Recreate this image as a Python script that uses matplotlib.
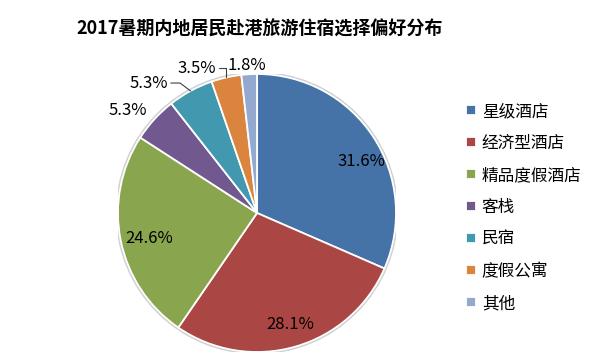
import numpy as np
import matplotlib
matplotlib.use("Agg")
import matplotlib.pyplot as plt
from matplotlib.patches import Circle

plt.rcParams['font.family'] = ['Noto Sans CJK SC', 'DejaVu Sans']

title = "2017暑期内地居民赴港旅游住宿选择偏好分布"
categories = ["星级酒店", "经济型酒店", "精品度假酒店", "客栈", "民宿", "度假公寓", "其他"]
values = [31.6, 28.1, 24.6, 5.3, 5.3, 3.5, 1.8]
colors = ["#4572A7", "#AA4643", "#89A54E", "#71588F", "#4198AF", "#DB843D", "#93A9CF"]

fig = plt.figure(figsize=(6, 3.6), dpi=100)
cx, cy, R = 257, 213, 139
ax = fig.add_axes([(cx - R) / 600, (360 - cy - R) / 360, 2 * R / 600, 2 * R / 360])

ax.add_patch(Circle((0, 0), 1.012, color='#d0d0d0', zorder=0))
wedges, _ = ax.pie(values, colors=colors, startangle=90, counterclock=False,
                   radius=1.0, wedgeprops=dict(edgecolor='white', linewidth=1.3),
                   normalize=True)
for w in wedges:
    w.set_zorder(1)
ax.set_xlim(-1, 1)
ax.set_ylim(-1, 1)
ax.set_aspect('equal')
ax.axis('off')

# label layout: radius and angle offset (degrees) for the inside labels
inside_r = [0.84, 0.84, 0.80]
inside_da = [-7, 0.7, 2.2]
labels = [f"{v:.1f}%" for v in values]

def mid_angle(w):
    return np.deg2rad((w.theta1 + w.theta2) / 2)

for i in range(3):
    a = mid_angle(wedges[i]) + np.deg2rad(inside_da[i])
    ax.text(inside_r[i] * np.cos(a), inside_r[i] * np.sin(a), labels[i],
            ha='center', va='center', fontsize=12, color='black')

# purple label (no leader)
a = mid_angle(wedges[3]) + np.deg2rad(4)
ax.text(1.19 * np.cos(a), 1.19 * np.sin(a), labels[3], ha='center', va='center', fontsize=12)

# cyan label with leader
a = mid_angle(wedges[4])
ax.annotate(labels[4], xy=(np.cos(a), np.sin(a)), xytext=(-0.64, 0.935),
            ha='right', va='center', fontsize=12,
            arrowprops=dict(arrowstyle='-', color='#404040', lw=0.8, shrinkA=0, shrinkB=0,
                            relpos=(1, 0.5), connectionstyle='angle,angleA=0,angleB=-37'))
# orange label with leader
a = mid_angle(wedges[5])
ax.annotate(labels[5], xy=(np.cos(a), np.sin(a)), xytext=(-0.295, 1.043),
            ha='right', va='center', fontsize=12,
            arrowprops=dict(arrowstyle='-', color='#404040', lw=0.8, shrinkA=0, shrinkB=0,
                            relpos=(1, 0.5), connectionstyle='angle,angleA=0,angleB=90'))
# grey-blue label
ax.text(-0.072, 1.06, labels[6], ha='center', va='center', fontsize=12)

fig.text(260 / 600, 1 - 29 / 360, title, ha='center', va='center', fontsize=13, fontweight='bold')

leg = fig.legend(wedges, categories, loc='upper left', bbox_to_anchor=(466 / 600, 1 - 103 / 360),
                 frameon=False, fontsize=12, handlelength=0.6, handleheight=0.6,
                 handletextpad=0.35, labelspacing=0.9, borderpad=0, borderaxespad=0)

fig.savefig("out.png", dpi=100, facecolor='white')
